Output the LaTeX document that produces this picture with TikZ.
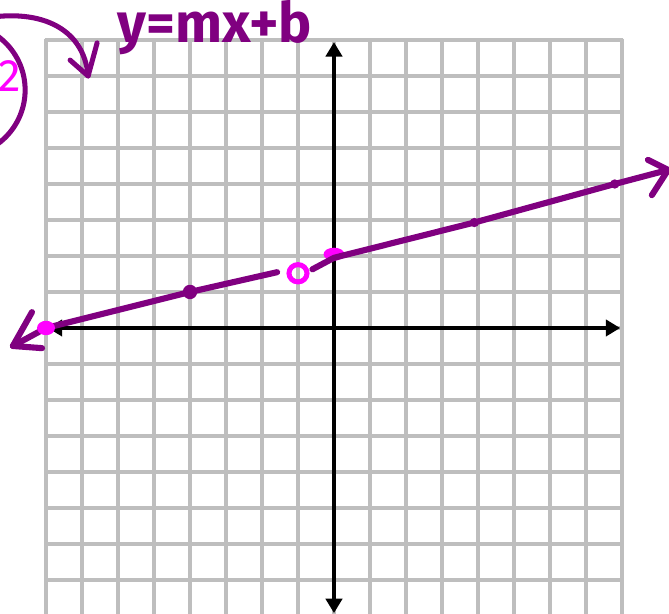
\documentclass[tikz,border=0pt]{standalone}
\usepackage{fontspec}
\setsansfont{Fira Sans}
\usetikzlibrary{arrows.meta}
\definecolor{cpurple}{HTML}{800080}
\definecolor{cmagenta}{HTML}{FF00FF}
\definecolor{cgrid}{HTML}{BEBEBE}
\tikzset{
  gridline/.style={draw=cgrid, line width=0.085cm},
  axis/.style={{Triangle[length=0.4cm,width=0.45cm]}-{Triangle[length=0.4cm,width=0.45cm]}, draw=black, line width=0.11cm},
  ink/.style={draw=cpurple, line width=0.17cm, line cap=round, line join=round},
  thinink/.style={ink, line width=0.14cm},
  pink/.style={draw=cmagenta, line width=0.14cm},
  hand/.style={font=\sffamily\bfseries\fontsize{44}{44}\selectfont, inner sep=0pt},
}

\begin{document}
\begin{tikzpicture}
  \useasboundingbox (-9.278,-7.944) rectangle (9.306,9.111);
  % grid
  \foreach \i in {-8,...,8} {
    \draw[gridline] (\i,8.04) -- (\i,-8.2);
    \draw[gridline] (-8.04,\i) -- (8.04,\i);
  }
  % axes
  \draw[axis] (0,-7.92) -- (0,7.94);
  \draw[axis] (-7.95,0) -- (7.95,0);
  % points of the line
  \coordinate (tipL) at (-8.92,-0.5);
  \coordinate (pA) at (-8,0);
  \coordinate (pB) at (-4,1);
  \coordinate (gapL) at (-1.58,1.55);
  \coordinate (hole) at (-1,1.52);
  \coordinate (gapR) at (-0.6,1.63);
  \coordinate (pC) at (0,1.95);
  \coordinate (pD) at (3.9,2.93);
  \coordinate (pE) at (7.8,4.0);
  \coordinate (tipR) at (9.28,4.39);
  \fill[cmagenta] (0,2.05) ellipse (0.29 and 0.18);
  \draw[ink] (tipL) -- (pA) -- (pB) -- (gapL);
  \draw[ink] (gapR) -- (pC) -- (pD) -- (pE) -- (tipR);
  \draw[ink] (-8.39,0.44) -- (tipL) -- (-8.11,-0.56);
  \draw[ink] (8.72,4.67) -- (tipR) -- (8.83,3.69);
  \fill[cmagenta] (pA) ellipse (0.25 and 0.2);
  \fill[cpurple] (pB) circle (0.2);
  \fill[cpurple] (pD) circle (0.13);
  \fill[cpurple] (pE) circle (0.13);
  \draw[pink] (hole) ellipse (0.25 and 0.24);
  % note in the corner
  \draw[thinink] (-10.43,6.61) circle (1.85);
  \node[hand, font=\sffamily\fontsize{36}{36}\selectfont, text=cmagenta, anchor=south east] (two) at (-8.7,6.55) {2};
  \draw[thinink] (-10,8.55) .. controls (-8.2,8.95) and (-6.95,8.35) .. (-6.83,7.0);
  \draw[thinink] (-7.33,7.44) -- (-6.83,7.0) -- (-6.58,7.92);
  \node[hand, text=cpurple, anchor=base] (eq) at (-3.31,7.92) {y=mx+b};
\end{tikzpicture}
\end{document}
